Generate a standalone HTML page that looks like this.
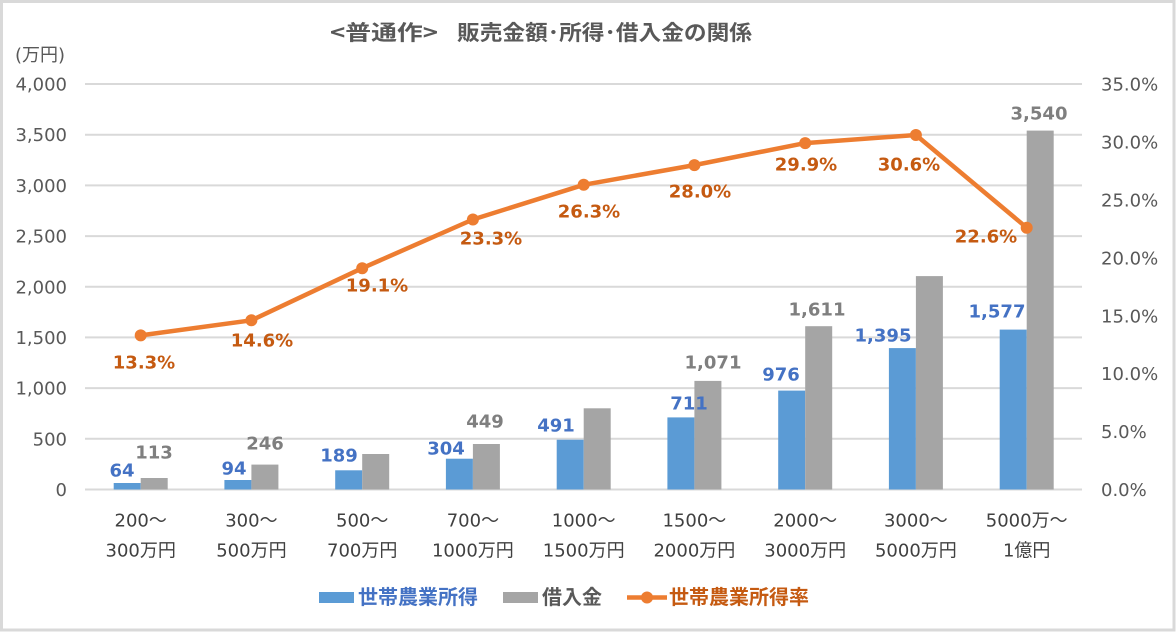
<!DOCTYPE html>
<html><head><meta charset="utf-8"><style>
html,body{margin:0;padding:0;background:#fff;}
svg{display:block;}
text{font-family:"DejaVu Sans","Liberation Sans","Noto Sans CJK JP",sans-serif;}
.jp{font-family:"Noto Sans CJK JP","DejaVu Sans",sans-serif;}
.tk{font-size:18px;fill:#595959;}
.cat{font-size:18px;fill:#404040;text-anchor:middle;}
.bl{font-size:18px;font-weight:bold;fill:#4472c4;text-anchor:middle;}
.gl{font-size:18px;font-weight:bold;fill:#7f7f7f;text-anchor:middle;}
.ol{font-size:18px;font-weight:bold;fill:#c55a11;text-anchor:middle;}
</style></head><body>
<svg width="1176" height="632" viewBox="0 0 1176 632" xmlns="http://www.w3.org/2000/svg">
<rect x="0" y="0" width="1176" height="632" fill="#fff"/>
<rect x="1.5" y="1.5" width="1172.5" height="628.5" fill="none" stroke="#d9d9d9" stroke-width="3"/>

<!-- title -->
<text x="330" y="40" class="jp" style="font-size:21px;font-weight:bold;fill:#595959" textLength="108" lengthAdjust="spacingAndGlyphs">&lt;普通作&gt;</text>
<text x="457" y="40" class="jp" style="font-size:21px;font-weight:bold;fill:#595959" textLength="295" lengthAdjust="spacingAndGlyphs">販売金額･所得･借入金の関係</text>

<!-- unit -->
<text x="15" y="61" class="tk">(万円)</text>

<!-- gridlines -->
<g stroke="#d9d9d9" stroke-width="2">
<line x1="85" x2="1082" y1="489.5" y2="489.5"/>
<line x1="85" x2="1082" y1="438.8" y2="438.8"/>
<line x1="85" x2="1082" y1="388.1" y2="388.1"/>
<line x1="85" x2="1082" y1="337.4" y2="337.4"/>
<line x1="85" x2="1082" y1="286.8" y2="286.8"/>
<line x1="85" x2="1082" y1="236.1" y2="236.1"/>
<line x1="85" x2="1082" y1="185.4" y2="185.4"/>
<line x1="85" x2="1082" y1="134.7" y2="134.7"/>
<line x1="85" x2="1082" y1="84" y2="84"/>
</g>

<!-- left ticks -->
<g class="tk" text-anchor="end">
<text x="67" y="496">0</text>
<text x="67" y="445.3">500</text>
<text x="67" y="394.6">1,000</text>
<text x="67" y="343.9">1,500</text>
<text x="67" y="293.3">2,000</text>
<text x="67" y="242.6">2,500</text>
<text x="67" y="191.9">3,000</text>
<text x="67" y="141.2">3,500</text>
<text x="67" y="90.5">4,000</text>
</g>
<!-- right ticks -->
<g class="tk">
<text x="1101" y="496">0.0%</text>
<text x="1101" y="438.1">5.0%</text>
<text x="1101" y="380.2">10.0%</text>
<text x="1101" y="322.3">15.0%</text>
<text x="1101" y="264.3">20.0%</text>
<text x="1101" y="206.4">25.0%</text>
<text x="1101" y="148.5">30.0%</text>
<text x="1101" y="90.5">35.0%</text>
</g>

<!-- bars -->
<g fill="#5b9bd5">
<rect x="113.7" y="483.0" width="27" height="6.5"/>
<rect x="224.4" y="480.0" width="27" height="9.5"/>
<rect x="335.2" y="470.3" width="27" height="19.2"/>
<rect x="445.9" y="458.7" width="27" height="30.8"/>
<rect x="556.7" y="439.7" width="27" height="49.8"/>
<rect x="667.4" y="417.4" width="27" height="72.1"/>
<rect x="778.2" y="390.6" width="27" height="98.9"/>
<rect x="888.9" y="348.1" width="27" height="141.4"/>
<rect x="999.7" y="329.6" width="27" height="159.9"/>
</g>
<g fill="#a5a5a5">
<rect x="140.7" y="478.0" width="27" height="11.5"/>
<rect x="251.4" y="464.6" width="27" height="24.9"/>
<rect x="362.2" y="454.0" width="27" height="35.5"/>
<rect x="472.9" y="444.0" width="27" height="45.5"/>
<rect x="583.7" y="408.3" width="27" height="81.2"/>
<rect x="694.4" y="380.9" width="27" height="108.6"/>
<rect x="805.2" y="326.2" width="27" height="163.3"/>
<rect x="915.9" y="276.1" width="27" height="213.4"/>
<rect x="1026.7" y="130.6" width="27" height="358.9"/>
</g>

<!-- line -->
<polyline fill="none" stroke="#ed7d31" stroke-width="4.5" stroke-linejoin="round" stroke-linecap="round"
 points="140.7,335.4 251.4,320.3 362.2,268.2 472.9,219.5 583.7,184.8 694.4,165.1 805.2,143.1 915.9,135.0 1026.7,227.7"/>
<g fill="#ed7d31">
<circle cx="140.7" cy="335.4" r="6"/>
<circle cx="251.4" cy="320.3" r="6"/>
<circle cx="362.2" cy="268.2" r="6"/>
<circle cx="472.9" cy="219.5" r="6"/>
<circle cx="583.7" cy="184.8" r="6"/>
<circle cx="694.4" cy="165.1" r="6"/>
<circle cx="805.2" cy="143.1" r="6"/>
<circle cx="915.9" cy="135.0" r="6"/>
<circle cx="1026.7" cy="227.7" r="6"/>
</g>

<!-- blue labels -->
<text class="bl" x="122" y="476.5">64</text>
<text class="bl" x="234" y="474.5">94</text>
<text class="bl" x="339" y="461.5">189</text>
<text class="bl" x="446" y="454.5">304</text>
<text class="bl" x="556" y="431.5">491</text>
<text class="bl" x="689" y="409.5">711</text>
<text class="bl" x="781" y="380.5">976</text>
<text class="bl" x="883" y="341.5">1,395</text>
<text class="bl" x="997" y="317.5">1,577</text>

<!-- gray labels -->
<text class="gl" x="154" y="458.5">113</text>
<text class="gl" x="265" y="449.5">246</text>
<text class="gl" x="485" y="427.5">449</text>
<text class="gl" x="713" y="368.5">1,071</text>
<text class="gl" x="817" y="315.5">1,611</text>
<text class="gl" x="1039" y="119.5">3,540</text>

<!-- orange labels -->
<text class="ol" x="144" y="368.5">13.3%</text>
<text class="ol" x="262" y="346.5">14.6%</text>
<text class="ol" x="377" y="291.5">19.1%</text>
<text class="ol" x="491" y="244.5">23.3%</text>
<text class="ol" x="589" y="217.5">26.3%</text>
<text class="ol" x="700" y="197.5">28.0%</text>
<text class="ol" x="806" y="170.5">29.9%</text>
<text class="ol" x="909" y="170.5">30.6%</text>
<text class="ol" x="986" y="242.5">22.6%</text>

<!-- category labels -->
<g class="cat">
<text x="140.7" y="526.5">200～</text><text x="140.7" y="556.5">300万円</text>
<text x="251.4" y="526.5">300～</text><text x="251.4" y="556.5">500万円</text>
<text x="362.2" y="526.5">500～</text><text x="362.2" y="556.5">700万円</text>
<text x="472.9" y="526.5">700～</text><text x="472.9" y="556.5">1000万円</text>
<text x="583.7" y="526.5">1000～</text><text x="583.7" y="556.5">1500万円</text>
<text x="694.4" y="526.5">1500～</text><text x="694.4" y="556.5">2000万円</text>
<text x="805.2" y="526.5">2000～</text><text x="805.2" y="556.5">3000万円</text>
<text x="915.9" y="526.5">3000～</text><text x="915.9" y="556.5">5000万円</text>
<text x="1026.7" y="526.5">5000万～</text><text x="1026.7" y="556.5">1億円</text>
</g>

<!-- legend -->
<rect x="319" y="592" width="35" height="11" fill="#5b9bd5"/>
<text x="358" y="604" class="jp" style="font-size:20px;font-weight:bold;fill:#4472c4">世帯農業所得</text>
<rect x="503" y="592" width="35" height="11" fill="#a5a5a5"/>
<text x="542" y="604" class="jp" style="font-size:20px;font-weight:bold;fill:#595959">借入金</text>
<line x1="627" y1="597.5" x2="667" y2="597.5" stroke="#ed7d31" stroke-width="4.5"/>
<circle cx="647" cy="597.5" r="6" fill="#ed7d31"/>
<text x="669" y="604" class="jp" style="font-size:20px;font-weight:bold;fill:#c55a11">世帯農業所得率</text>
</svg>
</body></html>
